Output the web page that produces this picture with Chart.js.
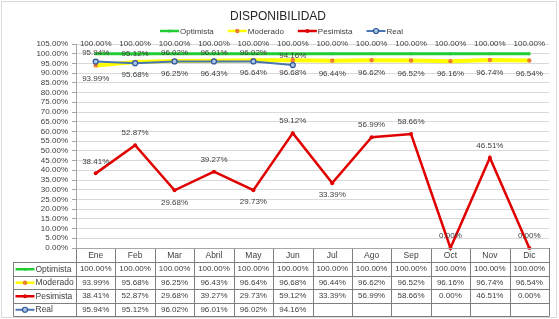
<!DOCTYPE html>
<html>
<head>
<meta charset="utf-8">
<script src="https://cdn.jsdelivr.net/npm/chart.js@4/dist/chart.umd.min.js"></script>
<style>
html, body { margin: 0; padding: 0; background: #fff; }
canvas { display: block; }
</style>
</head>
<body>
<canvas id="dispChart" width="559" height="319"></canvas>
<script>
// datos
const meses = ["Ene", "Feb", "Mar", "Abril", "May", "Jun", "Jul", "Ago", "Sep", "Oct", "Nov", "Dic"];
const optimista = [100, 100, 100, 100, 100, 100, 100, 100, 100, 100, 100, 100];
const moderado = [93.99, 95.68, 96.25, 96.43, 96.64, 96.68, 96.44, 96.62, 96.52, 96.16, 96.74, 96.54];
const pesimista = [38.41, 52.87, 29.68, 39.27, 29.73, 59.12, 33.39, 56.99, 58.66, 0, 46.51, 0];
const real = [95.94, 95.12, 96.02, 96.01, 96.02, 94.16, null, null, null, null, null, null];

// donde va la etiqueta de cada punto pesimista
const posPesimista = ["up", "up", "down", "up", "down", "up", "down", "up", "up", "up", "up", "up"];

const FONT = '"Liberation Sans", Arial, sans-serif';
const TXT = "#404040";
const pct = v => v.toFixed(2) + "%";

function drawKey(ctx, x, y, ds) {
    ctx.save();
    ctx.strokeStyle = ds.borderColor;
    ctx.lineWidth = Math.min(ds.borderWidth, 2.5);
    ctx.beginPath();
    ctx.moveTo(x, y);
    ctx.lineTo(x + 19, y);
    ctx.stroke();
    ctx.beginPath();
    ctx.arc(x + 9.5, y, ds.pointRadius, 0, Math.PI * 2);
    ctx.fillStyle = ds.pointBackgroundColor;
    ctx.fill();
    if (ds.pointBorderWidth > 0) {
        ctx.lineWidth = ds.pointBorderWidth;
        ctx.strokeStyle = ds.pointBorderColor;
        ctx.stroke();
    }
    ctx.restore();
}

const tablaPlugin = {
    id: "tabla",
    afterDraw(chart) {
        const ctx = chart.ctx;
        const area = chart.chartArea;
        const xs = chart.scales.x;
        const sets = chart.data.datasets;
        ctx.save();

        // borde del grafico
        ctx.strokeStyle = "#d9d9d9";
        ctx.lineWidth = 1;
        ctx.strokeRect(1.5, 1.5, 555, 316);

        // titulo
        ctx.fillStyle = "#262626";
        ctx.font = "12px " + FONT;
        ctx.textAlign = "center";
        ctx.textBaseline = "middle";
        ctx.fillText("DISPONIBILIDAD", 278, 17);

        // leyenda
        ctx.font = "8px " + FONT;
        const gap = 15;
        let total = 0;
        sets.forEach(ds => total += 19 + ctx.measureText(ds.label).width + gap);
        total -= gap;
        let lx = 281 - total / 2;
        ctx.textAlign = "left";
        sets.forEach(ds => {
            drawKey(ctx, lx, 31, ds);
            ctx.fillStyle = TXT;
            ctx.fillText(ds.label, lx + 20, 31.5);
            lx += 19 + ctx.measureText(ds.label).width + gap;
        });

        // etiquetas de datos
        ctx.font = "8px " + FONT;
        ctx.textAlign = "center";
        sets.forEach((ds, di) => {
            const meta = chart.getDatasetMeta(di);
            meta.data.forEach((pt, i) => {
                const v = ds.data[i];
                if (v === null) return;
                let off = ds.labelOffset;
                if (ds.label === "Pesimista") off = posPesimista[i] === "up" ? -12 : 12;
                ctx.fillStyle = TXT;
                ctx.fillText(pct(v), pt.x, pt.y + off);
            });
        });

        // tabla de datos
        const top = area.bottom;
        const rowH = 13.5;
        const headH = 14;
        const t0 = top + headH;
        const bottom = t0 + rowH * sets.length;
        const w = (area.right - area.left) / meses.length;
        const keyLeft = 13.5;

        ctx.strokeStyle = "#7f7f7f";
        ctx.lineWidth = 1;
        ctx.beginPath();
        for (let i = 0; i <= meses.length; i++) {
            const x = Math.round(area.left + w * i) + 0.5;
            ctx.moveTo(x, top);
            ctx.lineTo(x, bottom);
        }
        for (let r = 0; r <= sets.length; r++) {
            const y = Math.round(t0 + rowH * r) + 0.5;
            ctx.moveTo(keyLeft, y);
            ctx.lineTo(Math.round(area.right) + 0.5, y);
        }
        ctx.moveTo(keyLeft, t0);
        ctx.lineTo(keyLeft, Math.round(bottom) + 0.5);
        ctx.stroke();

        // eje x
        ctx.strokeStyle = "#a6a6a6";
        ctx.beginPath();
        ctx.moveTo(area.left, Math.round(top) + 0.5);
        ctx.lineTo(area.right, Math.round(top) + 0.5);
        ctx.stroke();

        ctx.fillStyle = TXT;
        ctx.font = "8.5px " + FONT;
        meses.forEach((m, i) => {
            ctx.fillText(m, xs.getPixelForValue(i), top + headH / 2 + 0.5);
        });

        sets.forEach((ds, r) => {
            const cy = t0 + rowH * (r + 0.5) + 0.5;
            drawKey(ctx, keyLeft + 2, cy, ds);
            ctx.textAlign = "left";
            ctx.font = "8.5px " + FONT;
            ctx.fillStyle = TXT;
            ctx.fillText(ds.label, keyLeft + 22, cy);
            ctx.textAlign = "center";
            ctx.font = "8px " + FONT;
            ds.data.forEach((v, i) => {
                if (v === null) return;
                ctx.fillText(pct(v), xs.getPixelForValue(i), cy);
            });
        });

        ctx.restore();
    }
};

const ctx = document.getElementById("dispChart").getContext("2d");

new Chart(ctx, {
    type: "line",
    data: {
        labels: meses,
        datasets: [
            {
                label: "Optimista",
                data: optimista,
                borderColor: "#22cc33",
                borderWidth: 3,
                pointRadius: 1.5,
                pointBorderWidth: 0,
                pointBackgroundColor: "#22cc33",
                pointBorderColor: "#22cc33",
                labelOffset: -10,
                order: 3
            },
            {
                label: "Moderado",
                data: moderado,
                borderColor: "#ffff00",
                borderWidth: 4,
                pointRadius: 2.2,
                pointBorderWidth: 0,
                pointBackgroundColor: "#ed7d31",
                pointBorderColor: "#ed7d31",
                labelOffset: 13,
                order: 2
            },
            {
                label: "Pesimista",
                data: pesimista,
                borderColor: "#e00000",
                borderWidth: 2.5,
                pointRadius: 2,
                pointBorderWidth: 0,
                pointBackgroundColor: "#e00000",
                pointBorderColor: "#e00000",
                labelOffset: -12,
                order: 1
            },
            {
                label: "Real",
                data: real,
                borderColor: "#4a76b4",
                borderWidth: 2,
                pointRadius: 2.5,
                pointBorderWidth: 1.2,
                pointBackgroundColor: "#a9c4e6",
                pointBorderColor: "#2f5597",
                labelOffset: -9,
                order: 0
            }
        ]
    },
    options: {
        responsive: false,
        animation: false,
        devicePixelRatio: 1,
        clip: false,
        layout: {
            padding: { top: 44, bottom: 71, left: 0, right: 10 }
        },
        elements: {
            line: { tension: 0 }
        },
        plugins: {
            legend: { display: false },
            title: { display: false },
            tooltip: { enabled: false }
        },
        scales: {
            x: {
                display: false,
                offset: true
            },
            y: {
                min: 0,
                max: 105,
                afterFit: s => { s.width = 76; },
                ticks: {
                    stepSize: 5,
                    autoSkip: false,
                    padding: 4,
                    color: TXT,
                    font: { family: FONT, size: 8 },
                    callback: v => pct(v)
                },
                grid: {
                    color: "#d9d9d9",
                    tickColor: "#a6a6a6",
                    tickLength: 4
                },
                border: { color: "#a6a6a6" }
            }
        }
    },
    plugins: [tablaPlugin]
});
</script>
</body>
</html>
